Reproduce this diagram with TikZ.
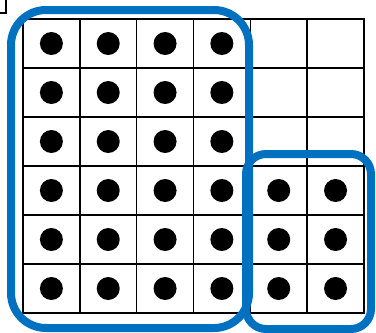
\documentclass[tikz,border=0pt]{standalone}
\usepackage{tikz}
\usetikzlibrary{positioning}
\definecolor{groupblue}{RGB}{0,112,192}

\begin{document}
\begin{tikzpicture}[x=1pt, y=-1pt,
    cellline/.style={line width=1.6pt, line cap=rect},
    dot/.style={fill=black},
    group/.style={draw=groupblue, line width=8pt}
]
    \useasboundingbox (0,0) rectangle (376,333);

    % cropped corner at the top left
    \draw[line width=1.4pt] (0,13) -- (6,13) -- (6,0);

    % 6 x 6 grid
    \foreach \i in {0,...,6} {
        \draw[cellline] ({23+56.83*\i},19) -- ({23+56.83*\i},313);
        \draw[cellline] (23,{19+49*\i}) -- (364,{19+49*\i});
    }

    % dots
    \foreach \c in {0,...,3}
        \foreach \r in {0,...,5}
            \fill[dot] ({51.4+56.83*\c},{43.5+49*\r}) circle (11.5pt);
    \foreach \c in {4,5}
        \foreach \r in {3,4,5}
            \fill[dot] ({51.4+56.83*\c},{43.5+49*\r}) circle (11.5pt);

    % groups
    \draw[group, rounded corners=35pt] (11,10) rectangle (249,328);
    \draw[group, rounded corners=20pt] (246,154) rectangle (371,329);
\end{tikzpicture}
\end{document}
